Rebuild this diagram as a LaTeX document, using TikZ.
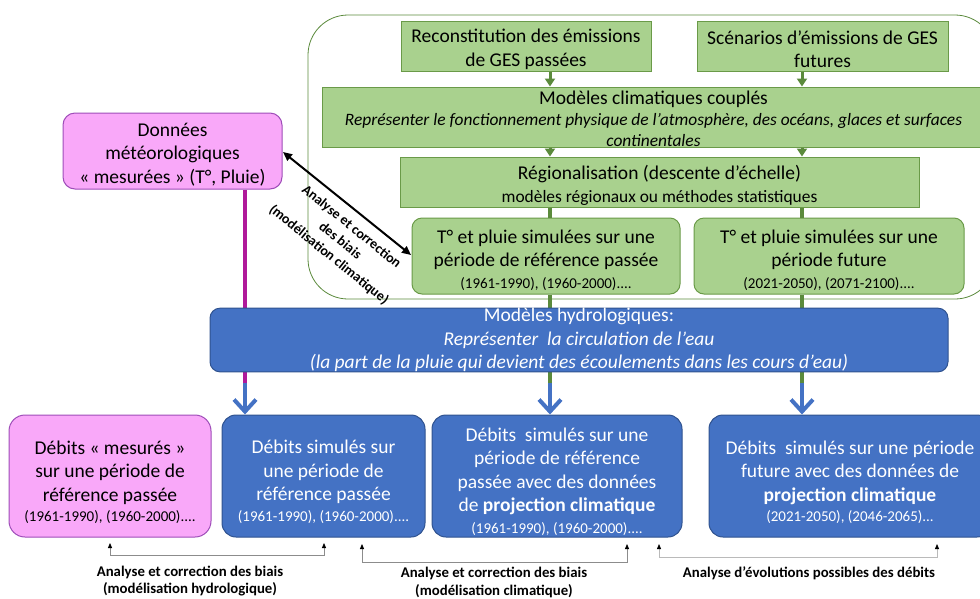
\documentclass[tikz,border=0pt]{standalone}
\usepackage{fontspec}
\setmainfont{Carlito}
\usetikzlibrary{arrows.meta,backgrounds}
\definecolor{gfill}{HTML}{A9D18E}
\definecolor{gdraw}{HTML}{6A9A48}
\definecolor{garr}{HTML}{5B8A3C}
\definecolor{bfill}{HTML}{4472C4}
\definecolor{bdraw}{HTML}{2F528F}
\definecolor{pfill}{HTML}{F9A8F9}
\definecolor{pdraw}{HTML}{9E4DB8}
\definecolor{mline}{HTML}{B0199A}
\definecolor{grline}{HTML}{8C8C8C}
\tikzset{
  gbox/.style={draw=gdraw, fill=gfill, line width=1pt, align=center, inner sep=0pt, font=\fontsize{19.5}{23.5}\selectfont},
  grbox/.style={gbox, rounded corners=10pt},
  bbox/.style={draw=bdraw, fill=bfill, line width=1pt, align=center, inner sep=0pt, rounded corners=14pt, text=white, font=\fontsize{19.5}{23.5}\selectfont},
  pbox/.style={draw=pdraw, fill=pfill, line width=1pt, align=center, inner sep=0pt, rounded corners=12pt, font=\fontsize{19.5}{23.5}\selectfont},
  garrow/.style={draw=garr, line width=3pt, -{Triangle[length=8pt,width=10pt]}},
  gline/.style={draw=garr, line width=4pt},
  barrow/.style={draw=bfill, line width=4pt, -{Straight Barb[length=12pt,width=22pt]}},
  biasarr/.style={draw=grline, line width=0.8pt, {Triangle[length=5pt,width=4pt,fill=black,color=black]}-{Triangle[length=5pt,width=4pt,fill=black,color=black]}},
  lab/.style={align=center, font=\fontsize{14.8}{17.5}\selectfont\bfseries, inner sep=0pt},
}
\newcommand{\yrsf}{\fontsize{15}{18}\selectfont}
\newcommand{\subf}{\fontsize{17.4}{20}\selectfont}
\newcommand{\dn}[1]{\rule{0pt}{#1}}
\begin{document}
\begin{tikzpicture}[x=1pt,y=-1pt]
\useasboundingbox (0,0) rectangle (980,598);
\clip (0,0) rectangle (980,598);
% columns
\coordinate (colA) at (550,0);
\coordinate (colB) at (802,0);
\coordinate (colP) at (245,0);
% outer frame
\draw[draw=garr, line width=0.8pt, rounded corners=40pt] (308,15) rectangle (995,299);
% top green boxes
\node[gbox, minimum width=250pt, minimum height=50pt] (recon) at (526,46) {\dn{20pt}Reconstitution des émissions\\ de GES passées};
\node[gbox, minimum width=251pt, minimum height=50pt] (scen) at (822.5,46) {\dn{20pt}Scénarios d’émissions de GES\\ futures};
\node[gbox, minimum width=663pt, minimum height=60pt] (climat) at (653.5,117) {\dn{17pt}Modèles climatiques couplés\\[-2pt] {\subf\itshape Représenter le fonctionnement physique de l’atmosphère, des océans, glaces et surfaces}\\[-3pt] {\subf\itshape continentales}};
\node[gbox, minimum width=519pt, minimum height=50pt] (region) at (659.5,182) {\dn{21pt}Régionalisation (descente d’échelle)\\[-1pt] {\subf modèles régionaux ou méthodes statistiques}};
\node[grbox, minimum width=268pt, minimum height=76pt] (tpass) at (546,256) {\dn{22pt}T° et pluie simulées sur une\\ période de référence passée\\[-2pt] {\yrsf (1961-1990), (1960-2000)....}};
\node[grbox, minimum width=270pt, minimum height=76pt] (tfut) at (829,256) {\dn{22pt}T° et pluie simulées sur une\\ période future\\[-2pt] {\yrsf (2021-2050), (2071-2100)....}};
% pink data box
\node[pbox, minimum width=219pt, minimum height=76pt] (donnees) at (172.5,151) {\dn{20pt}Données\\ météorologiques\\ « mesurées » (T°, Pluie)};
% hydro
\node[bbox, rounded corners=10pt, minimum width=738pt, minimum height=62pt] (hydro) at (579,340) {Modèles hydrologiques:\\ {\itshape Représenter\ \ la circulation de l’eau}\\ {\itshape (la part de la pluie qui devient des écoulements dans les cours d’eau)}};
% bottom boxes
\node[pbox, rounded corners=16pt, minimum width=202pt, minimum height=122pt] (mes) at (110,476) {\dn{26pt}Débits « mesurés »\\ sur une période de\\ référence passée\\[-3pt] {\yrsf (1961-1990), (1960-2000)....}};
\node[bbox, minimum width=203pt, minimum height=122pt] (sim1) at (323.5,476) {\dn{25pt}Débits simulés sur\\ une période de\\ référence passée\\[-3pt] {\yrsf (1961-1990), (1960-2000)....}};
\node[bbox, minimum width=250pt, minimum height=122pt] (sim2) at (557,476) {\dn{25pt}Débits\ \ simulés sur une\\ période de référence\\ passée avec des données\\ de \textbf{projection climatique}\\[-2pt] {\yrsf (1961-1990), (1960-2000)....}};
\node[bbox, minimum width=282pt, minimum height=122pt] (sim3) at (850,476) {\dn{26pt}Débits\ \ simulés sur une période\\ future avec des données de\\ \textbf{projection climatique}\\[-3pt] {\yrsf (2021-2050), (2046-2065)...}};
% connectors on background
\coordinate (jA) at (550,383);
\coordinate (jB) at (802,383);
\coordinate (jP) at (245,383);
\begin{scope}[on background layer]
\draw[gline] (tpass.south -| colA) -- (jA);
\draw[gline] (tfut.south -| colB) -- (jB);
\draw[draw=mline, line width=4pt] (donnees.south -| colP) -- (jP);
\end{scope}
\draw[barrow] (jA) -- (sim2.north -| colA);
\draw[barrow] (jB) -- (sim3.north -| colB);
\draw[barrow] (jP) -- (sim1.north -| colP);
\draw[garrow] (recon.south -| colA) -- (climat.north -| colA);
\draw[garrow] (scen.south -| colB) -- (climat.north -| colB);
\draw[garrow] (climat.south -| colA) -- (region.north -| colA);
\draw[garrow] (climat.south -| colB) -- (region.north -| colB);
\draw[gline] (region.south -| colA) -- (tpass.north -| colA);
\draw[gline] (region.south -| colB) -- (tfut.north -| colB);
% diagonal bias arrow
\coordinate (dA) at (283,152);
\coordinate (dB) at (411,255);
\draw[line width=2pt, {Triangle[length=9pt,width=8pt]}-{Triangle[length=9pt,width=8pt]}] (dA) -- (dB);
\node[lab, rotate=-39, font=\fontsize{14}{18}\selectfont\bfseries] (dlab) at (340,241) {Analyse et correction\\ des biais\\ (modélisation climatique)};
% bottom bias arrows
\coordinate (h1a) at (110,543);
\coordinate (h1b) at (324,543);
\coordinate (h2a) at (362,544);
\coordinate (h2b) at (627,544);
\coordinate (h3a) at (659,544);
\coordinate (h3b) at (937,544);
\draw[biasarr] (h1a) -- ++(0,12) -| (h1b);
\draw[biasarr] (h2a) -- ++(0,18) -| (h2b);
\draw[biasarr, draw=grline!60] (h3a) -- ++(0,13) -| (h3b);
\node[lab] (l1) at (190,581) {Analyse et correction des biais\\ (modélisation hydrologique)};
\node[lab] (l2) at (494,582.5) {Analyse et correction des biais\\ (modélisation climatique)};
\node[lab] (l3) at (809,573) {Analyse d’évolutions possibles des débits};
\end{tikzpicture}
\end{document}
